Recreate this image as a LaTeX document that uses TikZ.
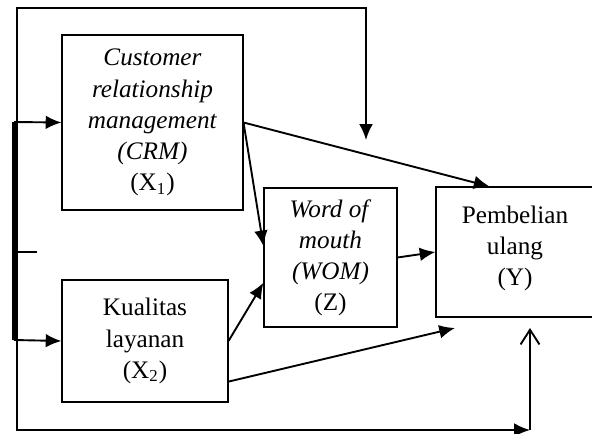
\documentclass[tikz,border=0pt]{standalone}
\usepackage{fontspec}
\setmainfont{Liberation Serif}
\usetikzlibrary{arrows.meta,calc}
\tikzset{
  box/.style={draw, line width=0.5pt, align=center, inner sep=0pt,
    font=\fontsize{12}{14.8}\selectfont},
  link/.style={line width=0.9pt, -{Latex[length=7.5pt,width=6.5pt]}}
}
\begin{document}
\begin{tikzpicture}[x=0.476pt, y=-0.476pt]
\useasboundingbox (0, 0) rectangle (592, 434);
\node[box, minimum width=181*0.476pt, minimum height=175*0.476pt] (crm) at(152.5, 122.5)
  {\textit{Customer}\\ \textit{relationship}\\ \textit{management}\\ \textit{(CRM)}\\ (X\textsubscript{1})};
\node[box, minimum width=166*0.476pt, minimum height=122*0.476pt] (kual) at(145, 341)
  {Kualitas\\ layanan\\ (X\textsubscript{2})};
\node[box, minimum width=133*0.476pt, minimum height=139*0.476pt] (wom) at(330.5, 257.5)
  {\textit{Word of}\\ \textit{mouth}\\ \textit{(WOM)}\\ (Z)};
\node[box, minimum width=158*0.476pt, minimum height=130*0.476pt] (beli) at(515, 252)
  {Pembelian\\ ulang\\ (Y)\\[-9pt]};
\coordinate (topL) at(17, 8);
\coordinate (topR) at(366, 8);
\coordinate (topEnd) at(366, 140);
\coordinate (botL) at(17, 430);
\coordinate (botR) at(530, 430);
\coordinate (botEnd) at(530, 328);
\coordinate (kualEnd) at(455, 328);
\coordinate (barA) at(14, 122);
\coordinate (barB) at(14, 340);
\coordinate (tick) at(37, 252);
% outer loop
\draw[link] (botL) -- (topL) -- (topR) -- (topEnd);
\draw[link] (topL) -- (botL) -- (botR);
\draw[line width=0.9pt, -{Straight Barb[length=7pt,width=9pt]}] (botR) -- (botEnd);
% left bar
\draw[line width=1.5pt] (barA) -- (barB);
\draw[line width=0.9pt] (barA |- tick) -- (tick);
\draw[link] (barA) -- (crm.west);
\draw[link] (barB) -- (kual.west);
% paths
\draw[link] (crm.east) -- ($(beli.north west)!0.34!(beli.north east)$);
\draw[link] (crm.east) -- ($(wom.north west)!0.42!(wom.south west)$);
\draw[link] (kual.east) -- ($(wom.north west)!0.68!(wom.south west)$);
\draw[link] ($(kual.north east)!0.83!(kual.south east)$) -- (kualEnd);
\draw[link] (wom.east) -- (beli.west);
\end{tikzpicture}
\end{document}
